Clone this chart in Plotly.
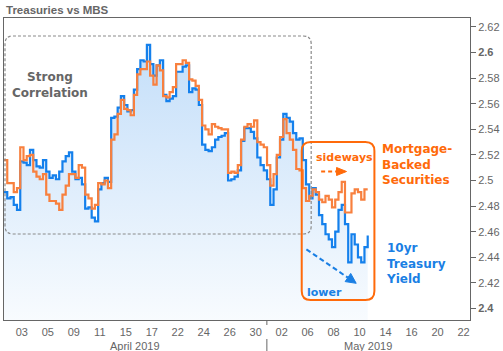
import plotly.graph_objects as go
import pandas as pd

# ---------------- data ----------------
# trading sessions (Good Friday 2019-04-19 closed), samples every 6 hours
session_days = [d for d in pd.bdate_range("2019-04-01", "2019-05-10") if d != pd.Timestamp("2019-04-19")]
sample_hours = [3, 9, 15, 21]
first_sample = pd.Timestamp("2019-04-01 15:00")
last_sample = pd.Timestamp("2019-05-10 15:00")
times = [d + pd.Timedelta(hours=h) for d in session_days for h in sample_hours]
times = [t for t in times if first_sample <= t <= last_sample]

# MBS-implied (orange) and 10yr Treasury yield (blue)
mbs = [2.516, 2.498, 2.498, 2.491, 2.494, 2.526, 2.516, 2.519, 2.520, 2.507,
       2.503, 2.501, 2.505, 2.489, 2.484, 2.484, 2.482, 2.477, 2.489, 2.496,
       2.505, 2.505, 2.502, 2.512, 2.510, 2.489, 2.486, 2.478, 2.481, 2.498,
       2.497, 2.500, 2.494, 2.532, 2.536, 2.552, 2.563, 2.556, 2.555, 2.551,
       2.567, 2.583, 2.587, 2.587, 2.593, 2.582, 2.575, 2.590, 2.586, 2.566,
       2.565, 2.569, 2.573, 2.591, 2.591, 2.594, 2.592, 2.579, 2.578, 2.574,
       2.563, 2.543, 2.540, 2.536, 2.544, 2.542, 2.541, 2.540, 2.540, 2.506,
       2.507, 2.506, 2.512, 2.532, 2.542, 2.544, 2.542, 2.547, 2.530, 2.528,
       2.526, 2.512, 2.496, 2.505, 2.520, 2.534, 2.548, 2.537, 2.532, 2.524,
       2.509, 2.508, 2.494, 2.484, 2.488, 2.493, 2.491, 2.485, 2.483, 2.488,
       2.485, 2.479, 2.485, 2.491, 2.499, 2.475, 2.475, 2.490, 2.493, 2.491,
       2.485, 2.493, 2.493]

tsy = [2.491, 2.486, 2.487, 2.481, 2.477, 2.515, 2.514, 2.512, 2.524, 2.516,
       2.511, 2.510, 2.516, 2.507, 2.502, 2.504, 2.501, 2.507, 2.515, 2.519,
       2.522, 2.507, 2.501, 2.502, 2.497, 2.478, 2.479, 2.471, 2.468, 2.493,
       2.498, 2.502, 2.499, 2.549, 2.550, 2.557, 2.566, 2.559, 2.554, 2.555,
       2.571, 2.587, 2.594, 2.593, 2.606, 2.591, 2.582, 2.590, 2.594, 2.567,
       2.562, 2.564, 2.566, 2.585, 2.585, 2.589, 2.590, 2.569, 2.572, 2.571,
       2.559, 2.528, 2.524, 2.523, 2.526, 2.532, 2.534, 2.535, 2.537, 2.500,
       2.501, 2.503, 2.508, 2.531, 2.541, 2.541, 2.538, 2.533, 2.518, 2.512,
       2.508, 2.501, 2.481, 2.493, 2.518, 2.532, 2.552, 2.549, 2.546, 2.537,
       2.532, 2.533, 2.516, 2.497, 2.486, 2.494, 2.489, 2.473, 2.466, 2.458,
       2.454, 2.448, 2.460, 2.477, 2.481, 2.466, 2.436, 2.458, 2.450, 2.440,
       2.436, 2.448, 2.457]

tick_dates = ["2019-04-03", "2019-04-05", "2019-04-09", "2019-04-11", "2019-04-15",
              "2019-04-17", "2019-04-22", "2019-04-24", "2019-04-26", "2019-04-30",
              "2019-05-02", "2019-05-06", "2019-05-08", "2019-05-10", "2019-05-14",
              "2019-05-16", "2019-05-20", "2019-05-22"]
tick_labels = ["03", "05", "09", "11", "15", "17", "22", "24", "26", "30",
               "02", "06", "08", "10", "14", "16", "20", "22"]
month_labels = ["April 2019", "May 2019"]

y_ticks = [2.40, 2.42, 2.44, 2.46, 2.48, 2.50, 2.52, 2.54, 2.56, 2.58, 2.60, 2.62]
y_labels = ["<b>2.4</b>", "2.42", "2.44", "2.46", "2.48", "2.5", "2.52", "2.54",
            "2.56", "2.58", "<b>2.6</b>", "2.62"]

assert len(times) == len(mbs) == len(tsy)

# ---------------- styles ----------------
W, H = 503, 351
ML, MR, MT, MB = 3, 32, 18, 31
PW, PH = W - ML - MR, H - MT - MB
BLUE = "#1480EC"
ORANGE = "#F8803E"
ORANGE_TXT = "#FF6A0A"
BLUE_TXT = "#1A7FE4"
GREY = "#666666"
TXTFONT = "DejaVu Sans"
TICKFONT = "Liberation Sans"


def px(x):
    return (x - ML) / PW


def py(y):
    return (H - MB - y) / PH


def rrect(x0, y0, x1, y1, r):
    return (f"M {px(x0 + r)},{py(y0)} L {px(x1 - r)},{py(y0)} "
            f"Q {px(x1)},{py(y0)} {px(x1)},{py(y0 + r)} L {px(x1)},{py(y1 - r)} "
            f"Q {px(x1)},{py(y1)} {px(x1 - r)},{py(y1)} L {px(x0 + r)},{py(y1)} "
            f"Q {px(x0)},{py(y1)} {px(x0)},{py(y1 - r)} L {px(x0)},{py(y0 + r)} "
            f"Q {px(x0)},{py(y0)} {px(x0 + r)},{py(y0)} Z")


def tri(pts):
    s = " L ".join(f"{px(a)},{py(b)}" for a, b in pts)
    return f"M {s} Z"


fig = go.Figure()
fig.add_trace(go.Scatter(
    x=times, y=tsy, mode="lines", name="10yr Treasury Yield",
    line=dict(color=BLUE, width=2.2, shape="hv"),
    fill="tozeroy",
    fillgradient=dict(type="vertical",
                      colorscale=[[0, "rgba(24,128,232,0.03)"], [1, "rgba(24,128,232,0.27)"]],
                      start=2.39, stop=2.62),
))
fig.add_trace(go.Scatter(
    x=times, y=mbs, mode="lines", name="MBS",
    line=dict(color=ORANGE, width=2.2, shape="hv"),
))

shapes = [
    # grey dashed "strong correlation" box
    dict(type="path", xref="paper", yref="paper", path=rrect(4, 36, 311.5, 234, 8),
         line=dict(color="#8a8a8a", width=1.2, dash="3px,2px")),
    # orange box
    dict(type="path", xref="paper", yref="paper", path=rrect(302, 142, 375, 300, 9),
         line=dict(color=ORANGE_TXT, width=2)),
    # sideways arrow
    dict(type="line", xref="paper", yref="paper", x0=px(321.5), y0=py(171.5), x1=px(338), y1=py(171.5),
         line=dict(color=ORANGE_TXT, width=2, dash="4px,3px")),
    dict(type="path", xref="paper", yref="paper",
         path=tri([(337, 167.5), (347, 171.5), (337, 175.5)]),
         fillcolor=ORANGE_TXT, line=dict(color=ORANGE_TXT, width=1)),
    # lower arrow
    dict(type="line", xref="paper", yref="paper", x0=px(306.7), y0=py(249.3), x1=px(348.4), y1=py(277.7),
         line=dict(color=BLUE_TXT, width=2, dash="5px,3px")),
    dict(type="path", xref="paper", yref="paper",
         path=tri([(356.7, 283.3), (345.6, 281.6), (351.2, 273.4)]),
         fillcolor=BLUE_TXT, line=dict(color=BLUE_TXT, width=1)),
    # month separator
    dict(type="line", xref="paper", yref="paper", x0=px(267), y0=py(320), x1=px(267), y1=py(325),
         line=dict(color=GREY, width=1)),
    dict(type="line", xref="paper", yref="paper", x0=px(267), y0=py(339), x1=px(267), y1=py(352),
         line=dict(color=GREY, width=1)),
]

annotations = [
    dict(text="<b>Treasuries vs MBS</b>", xref="paper", yref="paper", x=px(3), y=py(10),
         xanchor="left", yanchor="middle", showarrow=False,
         font=dict(family=TICKFONT, size=11.5, color=GREY)),
    dict(text="<b>Strong<br>Correlation</b>", xref="paper", yref="paper", x=px(49), y=py(85.5),
         xanchor="center", yanchor="middle", showarrow=False, align="center",
         font=dict(family=TXTFONT, size=12, color=GREY)),
    dict(text="<b>Mortgage-<br>Backed<br>Securities</b>", xref="paper", yref="paper",
         x=px(381), y=py(164), xanchor="left", yanchor="middle", showarrow=False, align="left",
         font=dict(family=TXTFONT, size=12, color=ORANGE_TXT)),
    dict(text="<b>10yr<br>Treasury<br>Yield</b>", xref="paper", yref="paper",
         x=px(385), y=py(263), xanchor="left", yanchor="middle", showarrow=False, align="left",
         font=dict(family=TXTFONT, size=12, color=BLUE_TXT)),
    dict(text="<b>sideways</b>", xref="paper", yref="paper", x=px(344.5), y=py(157),
         xanchor="center", yanchor="middle", showarrow=False,
         font=dict(family=TXTFONT, size=11, color=ORANGE_TXT)),
    dict(text="<b>lower</b>", xref="paper", yref="paper", x=px(325), y=py(292),
         xanchor="center", yanchor="middle", showarrow=False,
         font=dict(family=TXTFONT, size=11, color=BLUE_TXT)),
    dict(text=month_labels[0], xref="paper", yref="paper", x=px(135), y=py(345.5),
         xanchor="center", yanchor="middle", showarrow=False,
         font=dict(family=TICKFONT, size=11, color=GREY)),
    dict(text=month_labels[1], xref="paper", yref="paper", x=px(369), y=py(345.5),
         xanchor="center", yanchor="middle", showarrow=False,
         font=dict(family=TICKFONT, size=11, color=GREY)),
]

fig.update_layout(
    width=W, height=H,
    margin=dict(l=ML, r=MR, t=MT, b=MB, pad=0),
    paper_bgcolor="white", plot_bgcolor="white",
    showlegend=False,
    shapes=shapes, annotations=annotations,
    xaxis=dict(
        type="date",
        range=["2019-04-01 15:00", "2019-05-22 12:00"],
        rangebreaks=[dict(bounds=["sat", "mon"]), dict(values=["2019-04-19"])],
        tickmode="array", tickvals=tick_dates, ticktext=tick_labels,
        ticks="", ticklabelstandoff=2, showgrid=False, zeroline=False,
        showline=True, linecolor=GREY, linewidth=1, mirror=True,
        tickfont=dict(family=TICKFONT, size=11, color=GREY),
    ),
    yaxis=dict(
        side="right", range=[2.391, 2.627],
        tickmode="array", tickvals=y_ticks, ticktext=y_labels,
        ticks="outside", ticklen=5, tickcolor=GREY, tickwidth=1,
        showgrid=False, zeroline=False,
        showline=True, linecolor=GREY, linewidth=1, mirror=True,
        tickfont=dict(family=TICKFONT, size=11, color=GREY),
    ),
)

fig.write_html("out.html")
